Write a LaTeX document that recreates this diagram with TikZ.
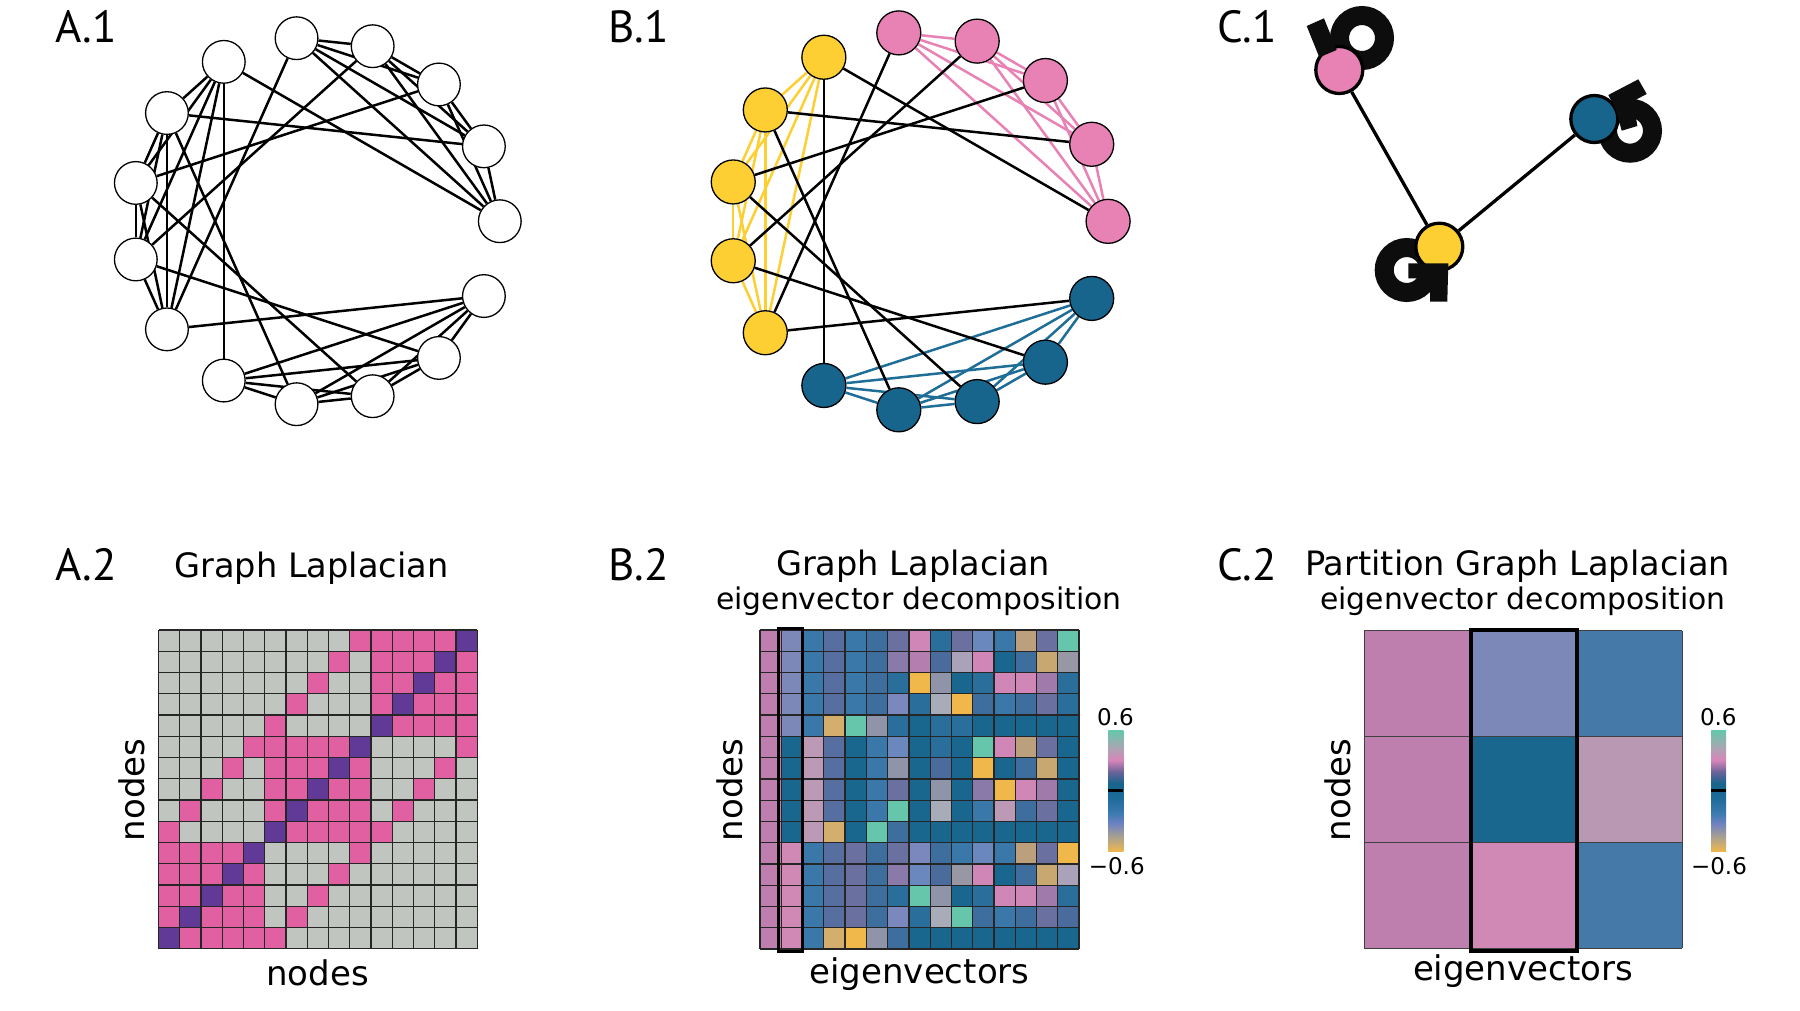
\documentclass[tikz,border=0pt]{standalone}
\usepackage{fontspec}
\newfontfamily\mplfont{DejaVu Sans}
\newfontfamily\lblfont{PT Sans}
\usetikzlibrary{backgrounds}
\definecolor{npink}{HTML}{E882B4}
\definecolor{nyel}{HTML}{FDCF33}
\definecolor{nblue}{HTML}{17648C}
\definecolor{eblue}{HTML}{1F6E98}
\definecolor{lap0}{HTML}{C0C6BF}
\definecolor{lap1}{HTML}{E060A2}
\definecolor{lap2}{HTML}{613A97}
\definecolor{eM}{HTML}{BE7FAE}
\definecolor{eL}{HTML}{7B88B8}
\definecolor{eB}{HTML}{3B78AA}
\definecolor{eS}{HTML}{566FA0}
\definecolor{eR}{HTML}{3E6E9E}
\definecolor{eV}{HTML}{6A70A0}
\definecolor{eX}{HTML}{D086B6}
\definecolor{eC}{HTML}{2A6E9C}
\definecolor{eW}{HTML}{6A88BE}
\definecolor{eK}{HTML}{BCA07E}
\definecolor{eT}{HTML}{66C6AC}
\definecolor{eQ}{HTML}{8A7AAA}
\definecolor{eA}{HTML}{B47EAE}
\definecolor{eF}{HTML}{4A6C9C}
\definecolor{eO}{HTML}{AAA2B8}
\definecolor{eD}{HTML}{19668E}
\definecolor{eI}{HTML}{C8A870}
\definecolor{eJ}{HTML}{9898A4}
\definecolor{eY}{HTML}{F0B84A}
\definecolor{eU}{HTML}{A07AAA}
\definecolor{eE}{HTML}{7A88BE}
\definecolor{eG}{HTML}{9094A8}
\definecolor{eH}{HTML}{A8ACB8}
\definecolor{eN}{HTML}{D4AE6C}
\definecolor{eZ}{HTML}{BC9AB6}
\definecolor{eP}{HTML}{D088B4}
\definecolor{eb}{HTML}{4479A8}
\definecolor{eg}{HTML}{B898B2}
\definecolor{cb0}{HTML}{F0B84A}
\definecolor{cb1}{HTML}{A8A090}
\definecolor{cb2}{HTML}{6E82C2}
\definecolor{cb3}{HTML}{3D7AB0}
\definecolor{cb4}{HTML}{1B6A98}
\definecolor{cb5}{HTML}{17648C}
\definecolor{cb6}{HTML}{6A6498}
\definecolor{cb7}{HTML}{D886BA}
\definecolor{cb8}{HTML}{A6A8B2}
\definecolor{cb9}{HTML}{66C6AC}
\pgfdeclareverticalshading{cbar}{100bp}{color(0bp)=(cb0); color(25bp)=(cb0); color(31.2bp)=(cb1); color(36.7bp)=(cb2); color(40.85bp)=(cb3); color(47.75bp)=(cb4); color(53.25bp)=(cb5); color(58bp)=(cb6); color(62.9bp)=(cb7); color(68.4bp)=(cb8); color(75bp)=(cb9); color(100bp)=(cb9)}
\begin{document}
\begin{tikzpicture}[x=1pt,y=-1pt,
  anode/.style={circle, draw=black, line width=1.3pt, fill=white, minimum size=42.7pt, inner sep=0pt},
  bnode/.style={circle, draw=black, line width=1.3pt, minimum size=44pt, inner sep=0pt},
  cnode/.style={circle, draw=black, line width=3.3pt, minimum size=47pt, inner sep=0pt},
  edge/.style={line width=2.5pt},
  cedge/.style={line width=3.3pt},
  ring/.style={line width=19pt, draw=black!95},
  head/.style={fill=black!95},
  gl/.style={line width=1.3pt, draw=black!85},
  hl/.style={line width=3.6pt, draw=black},
  panel/.style={font=\lblfont\fontsize{45}{54}\selectfont, anchor=base west, inner sep=0pt},
  title/.style={font=\mplfont\fontsize{33.6}{40}\selectfont, anchor=base, inner sep=0pt},
  subtitle/.style={font=\mplfont\fontsize{29.8}{36}\selectfont, anchor=base, inner sep=0pt},
  axlabel/.style={font=\mplfont\fontsize{34}{40}\selectfont, inner sep=0pt},
  cblabel/.style={font=\mplfont\fontsize{23}{28}\selectfont, inner sep=0pt}]
\useasboundingbox (0,0) rectangle (1800,1010);
\begin{pgfonlayer}{background}
\fill[white] (0,0) rectangle (1800,1010);
\end{pgfonlayer}

% ---------- panel labels
\node[panel] (la1) at (55,42) {A.1};
\node[panel] (lb1) at (608,42) {B.1};
\node[panel] (lc1) at (1217,42) {C.1};
\node[panel] (la2) at (55,580) {A.2};
\node[panel] (lb2) at (608,580) {B.2};
\node[panel] (lc2) at (1217,580) {C.2};

% ---------- A.1
\foreach \k in {0,...,14}
  \node[anode] (a\k) at ({315.8+184*cos(24*\k)},{221.2-184*sin(24*\k)}) {};
\begin{pgfonlayer}{background}
\foreach \g in {0,5,10}{
  \foreach \i in {0,...,3}{
    \pgfmathtruncatemacro\ip{\i+1}
    \foreach \jx in {\ip,...,4}{
      \pgfmathtruncatemacro\na{\g+\i}
      \pgfmathtruncatemacro\nb{\g+\jx}
      \draw[edge] (a\na) -- (a\nb);
    }}}
\foreach \k in {0,...,9}{
  \pgfmathtruncatemacro\nb{\k+5}
  \draw[edge] (a\k) -- (a\nb);}
\end{pgfonlayer}

% ---------- B.1
\foreach \k in {0,...,4}
  \node[bnode, fill=npink] (b\k) at ({918.6+189.5*cos(24*\k)},{221.35-189.5*sin(24*\k)}) {};
\foreach \k in {5,...,9}
  \node[bnode, fill=nyel] (b\k) at ({918.6+189.5*cos(24*\k)},{221.35-189.5*sin(24*\k)}) {};
\foreach \k in {10,...,14}
  \node[bnode, fill=nblue] (b\k) at ({918.6+189.5*cos(24*\k)},{221.35-189.5*sin(24*\k)}) {};
\begin{pgfonlayer}{background}
\foreach \g/\col in {0/npink,5/nyel,10/eblue}{
  \foreach \i in {0,...,3}{
    \pgfmathtruncatemacro\ip{\i+1}
    \foreach \jx in {\ip,...,4}{
      \pgfmathtruncatemacro\na{\g+\i}
      \pgfmathtruncatemacro\nb{\g+\jx}
      \draw[edge, draw=\col] (b\na) -- (b\nb);
    }}}
\foreach \k in {0,...,9}{
  \pgfmathtruncatemacro\nb{\k+5}
  \draw[edge] (b\k) -- (b\nb);}
\end{pgfonlayer}

% ---------- C.1
\node[cnode, fill=npink] (cp) at (1339.3,70) {};
\node[cnode, fill=nyel] (cy) at (1439.3,246.7) {};
\node[cnode, fill=nblue] (cb) at (1594.3,119) {};
\begin{pgfonlayer}{background}
\draw[ring] (1362,38) circle[radius=22.5pt];
\draw[ring] (1630,130.7) circle[radius=22.5pt];
\draw[ring] (1406.7,270) circle[radius=22.5pt];
\end{pgfonlayer}
\draw[cedge] (cp) -- (cy);
\draw[cedge] (cy) -- (cb);
\fill[head] (1306.7,26) -- (1324,18.3) -- (1336.7,50) -- (1319.3,57.3) -- cycle;
\fill[head] (1608.3,95) -- (1638.3,79.3) -- (1646.7,94) -- (1633.3,101) -- (1637.3,126) -- (1621.7,130.7) -- (1616,110) -- cycle;
\fill[head] (1408.3,263.3) -- (1448.3,263.3) -- (1447.3,301.7) -- (1430,301.7) -- (1430,278.3) -- (1408.3,278.3) -- cycle;

% ---------- A.2
\node[title] (ta2) at (311.5,577) {Graph Laplacian};
\foreach \ri in {1,...,15}{
  \foreach \ci in {1,...,15}{
    \pgfmathtruncatemacro\jj{16-\ci}
    \pgfmathtruncatemacro\gr{int((\ri-1)/5)}
    \pgfmathtruncatemacro\gj{int((\jj-1)/5)}
    \pgfmathtruncatemacro\dd{abs(\ri-\jj)}
    \pgfmathtruncatemacro\typ{(\ri==\jj) ? 2 : (((\gr==\gj) || (\dd==5)) ? 1 : 0)}
    \fill[lap\typ] ({158.5+21.25*(\ci-1)},{630+21.25*(\ri-1)}) rectangle ++(21.25,21.25);
  }}
\foreach \i in {0,...,15}{
  \draw[gl] ({158.5+21.25*\i},630) -- ({158.5+21.25*\i},948.75);
  \draw[gl] (158.5,{630+21.25*\i}) -- (477.25,{630+21.25*\i});}
\node[axlabel, rotate=90] (ya2) at (132,790) {nodes};
\node[axlabel] (xa2) at (317.5,973) {nodes};

% ---------- B.2
\node[title] (tb2) at (913,575) {Graph Laplacian};
\node[subtitle] (sb2) at (919,609) {eigenvector decomposition};
\foreach \rowlist [count=\ri] in {
 {M,L,B,S,B,R,V,X,C,V,W,B,K,V,T},
 {M,L,B,S,B,R,Q,A,F,O,X,D,R,I,J},
 {M,L,B,S,B,R,C,Y,G,D,C,X,X,U,C},
 {M,L,B,S,B,R,E,C,H,Y,R,B,R,V,C},
 {M,L,B,N,T,G,C,D,C,C,D,D,D,D,D},
 {M,D,Z,S,D,B,W,D,C,D,T,X,K,V,D},
 {M,D,Z,S,D,B,G,D,F,D,Y,D,R,I,D},
 {M,D,Z,S,D,B,V,D,G,D,Q,Y,X,U,D},
 {M,D,Z,S,D,B,T,D,H,D,B,Z,R,V,D},
 {M,D,Z,N,D,T,R,D,D,D,D,D,D,D,D},
 {M,P,B,S,V,R,V,E,R,B,W,B,K,V,Y},
 {M,P,B,S,V,R,Q,W,F,J,X,D,R,I,O},
 {M,P,B,S,V,R,C,T,G,D,C,X,X,U,C},
 {M,P,B,S,V,R,E,C,H,T,R,B,R,V,F},
 {M,P,B,N,Y,G,R,D,D,D,D,D,D,D,D}}{
  \foreach \cc [count=\ci] in \rowlist {
    \fill[fill=e\cc] ({760+21.27*(\ci-1)},{630+21.27*(\ri-1)}) rectangle ++(21.27,21.27);
  }}
\foreach \i in {0,...,15}{
  \draw[gl] ({760+21.27*\i},630) -- ({760+21.27*\i},949.05);
  \draw[gl] (760,{630+21.27*\i}) -- (1079.05,{630+21.27*\i});}
\draw[hl] (778.6,628.3) rectangle (802.6,951.5);
\shade[shading=cbar] (1108.3,730.7) rectangle (1123.3,851.7);
\draw[line width=2.5pt] (1108.3,790.7) -- (1123.3,790.7);
\node[cblabel] (cbt1) at (1115.5,717.5) {0.6};
\node[cblabel] (cbb1) at (1116.7,866.5) {−0.6};
\node[axlabel, rotate=90] (yb2) at (730,790) {nodes};
\node[axlabel] (xb2) at (919.5,974) {eigenvectors};

% ---------- C.2
\node[title] (tc2) at (1517.5,575) {Partition Graph Laplacian};
\node[subtitle] (sc2) at (1523,609) {eigenvector decomposition};
\foreach \rowlist [count=\ri] in {{M,L,b},{M,D,g},{M,P,b}}{
  \foreach \cc [count=\ci] in \rowlist {
    \fill[fill=e\cc] ({1364+106.1*(\ci-1)},{630.7+105.9*(\ri-1)}) rectangle ++(106.1,105.9);
  }}
\foreach \i in {0,...,3}{
  \draw[line width=1pt, draw=black!75] ({1364+106.1*\i},630.7) -- ({1364+106.1*\i},948.4);
  \draw[line width=1pt, draw=black!75] (1364,{630.7+105.9*\i}) -- (1682.3,{630.7+105.9*\i});}
\draw[hl] (1470.7,630.2) rectangle (1577.2,950.8);
\shade[shading=cbar] (1711,730.7) rectangle (1726,851.7);
\draw[line width=2.5pt] (1711,790.7) -- (1726,790.7);
\node[cblabel] (cbt2) at (1718.3,717) {0.6};
\node[cblabel] (cbb2) at (1719,866) {−0.6};
\node[axlabel, rotate=90] (yc2) at (1337.5,790) {nodes};
\node[axlabel] (xc2) at (1523,971) {eigenvectors};
\end{tikzpicture}
\end{document}
